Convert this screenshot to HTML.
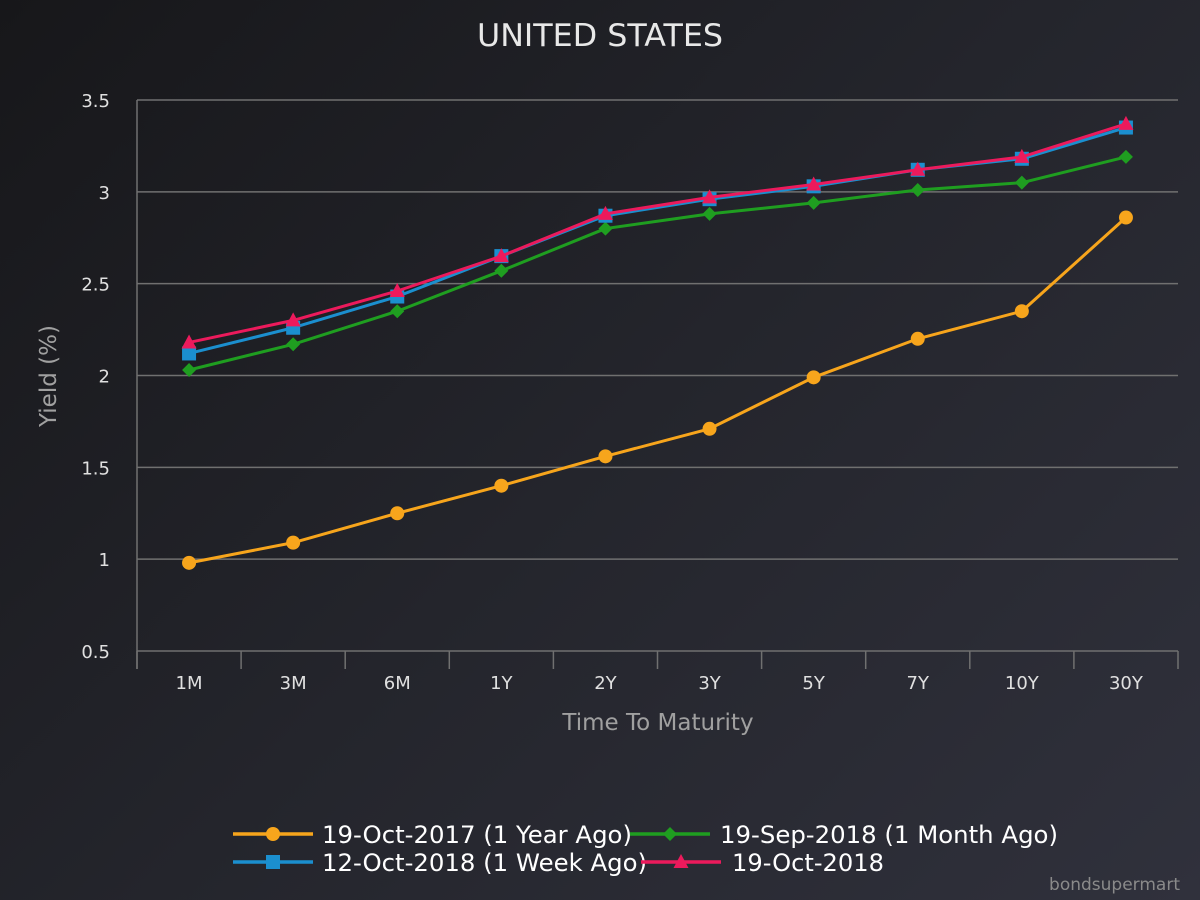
<!DOCTYPE html>
<html><head><meta charset="utf-8"><style>
html,body{margin:0;padding:0;width:1200px;height:900px;overflow:hidden}
body{background:linear-gradient(135deg,#17171a 0%,#24252c 50%,#30313c 100%);font-family:"DejaVu Sans","Liberation Sans",sans-serif}
</style></head><body>
<svg id="chart" width="1200" height="900" xmlns="http://www.w3.org/2000/svg" font-family="DejaVu Sans, Liberation Sans, sans-serif"></svg>
<script>
const categories=["1M","3M","6M","1Y","2Y","3Y","5Y","7Y","10Y","30Y"];
const yearAgo=[0.98,1.09,1.25,1.40,1.56,1.71,1.99,2.20,2.35,2.86];
const monthAgo=[2.03,2.17,2.35,2.57,2.80,2.88,2.94,3.01,3.05,3.19];
const weekAgo=[2.12,2.26,2.43,2.65,2.87,2.96,3.03,3.12,3.18,3.35];
const today=[2.18,2.30,2.46,2.65,2.88,2.97,3.04,3.12,3.19,3.37];
const yTicks=[0.5,1,1.5,2,2.5,3,3.5];
const seriesNames=["19-Oct-2017 (1 Year Ago)","19-Sep-2018 (1 Month Ago)","12-Oct-2018 (1 Week Ago)","19-Oct-2018"];

const svg=document.getElementById('chart');
const NS="http://www.w3.org/2000/svg";
const L=137,R=1178,T=100,B=651;
const band=(R-L)/categories.length;
function x(i){return L+band*(i+0.5);}
function y(v){return B-(v-0.5)/(3.5-0.5)*(B-T);}
function mk(tag,attrs,parent){const e=document.createElementNS(NS,tag);for(const k in attrs)e.setAttribute(k,attrs[k]);(parent||svg).appendChild(e);return e;}

const title=mk('text',{x:600,y:46,'text-anchor':'middle','font-size':31,fill:'#e8e8e8',textLength:246,lengthAdjust:'spacingAndGlyphs'});
title.textContent="UNITED STATES";



yTicks.forEach(t=>{
  const g=mk('line',{x1:L,x2:R,y1:y(t),y2:y(t),stroke:'#707070','stroke-width':1.5});
  
  
  const lb=mk('text',{x:L-27,y:y(t)+7,'text-anchor':'end','font-size':18,fill:'#e0e0e0'});
  lb.textContent=String(t);
  
  
});
const ya=mk('line',{x1:L,x2:L,y1:T,y2:B+18,stroke:'#707070','stroke-width':1.5});


for(let i=0;i<=categories.length;i++){
  const tk=mk('line',{x1:L+band*i,x2:L+band*i,y1:B,y2:B+18,stroke:'#707070','stroke-width':1.5});
  
  
}
categories.forEach((c,i)=>{
  const lb=mk('text',{x:x(i),y:689,'text-anchor':'middle','font-size':18,fill:'#e0e0e0'});
  lb.textContent=c;
  
  
});
const xt=mk('text',{x:658,y:730,'text-anchor':'middle','font-size':23,fill:'#a0a0a0'});
xt.textContent="Time To Maturity";


const yt=mk('text',{x:0,y:0,'text-anchor':'middle','font-size':23,fill:'#a0a0a0',transform:'translate(56,376) rotate(-90)'});
yt.textContent="Yield (%)";



function marker(type,cx,cy,color,parent){
  let e;
  if(type==='circle')e=mk('circle',{cx:cx,cy:cy,r:7,fill:color},parent);
  else if(type==='diamond')e=mk('polygon',{points:`${cx},${cy-7} ${cx+7},${cy} ${cx},${cy+7} ${cx-7},${cy}`,fill:color},parent);
  else if(type==='square')e=mk('rect',{x:cx-7,y:cy-7,width:14,height:14,fill:color},parent);
  else e=mk('polygon',{points:`${cx},${cy-8} ${cx+7.5},${cy+6} ${cx-7.5},${cy+6}`,fill:color},parent);
  return e;
}
const series=[
  {data:yearAgo,color:'#f7a51c',m:'circle',name:'series-year-ago'},
  {data:monthAgo,color:'#1f9e20',m:'diamond',name:'series-month-ago'},
  {data:weekAgo,color:'#1b8fcf',m:'square',name:'series-week-ago'},
  {data:today,color:'#ec1a5c',m:'triangle',name:'series-today'}
];
series.forEach(s=>{
  const g=mk('g',{});
  
  
  const p=mk('polyline',{points:s.data.map((v,i)=>x(i)+','+y(v)).join(' '),fill:'none',stroke:s.color,'stroke-width':3,'stroke-linejoin':'round'},g);
  
  
  s.data.forEach((v,i)=>{
    const m=marker(s.m,x(i),y(v),s.color,g);
    
    
  });
});

const legPos=[[233,834,322,310],[630,834,720,338],[233,862,322,325],[641,862,732,152]];
legPos.forEach((p,k)=>{
  const s=series[k];
  const g=mk('g',{});
  
  
  mk('line',{x1:p[0],x2:p[0]+80,y1:p[1],y2:p[1],stroke:s.color,'stroke-width':3.5},g);
  marker(s.m,p[0]+40,p[1],s.color,g);
  const t=mk('text',{x:p[2],y:p[1]+9,'font-size':24,fill:'#ffffff',textLength:p[3],lengthAdjust:'spacingAndGlyphs'},g);
  t.textContent=seriesNames[k];
});
const cr=mk('text',{x:1180,y:890,'text-anchor':'end','font-size':17,fill:'#8a8a8a'});
cr.textContent="bondsupermart";


</script>
</body></html>
